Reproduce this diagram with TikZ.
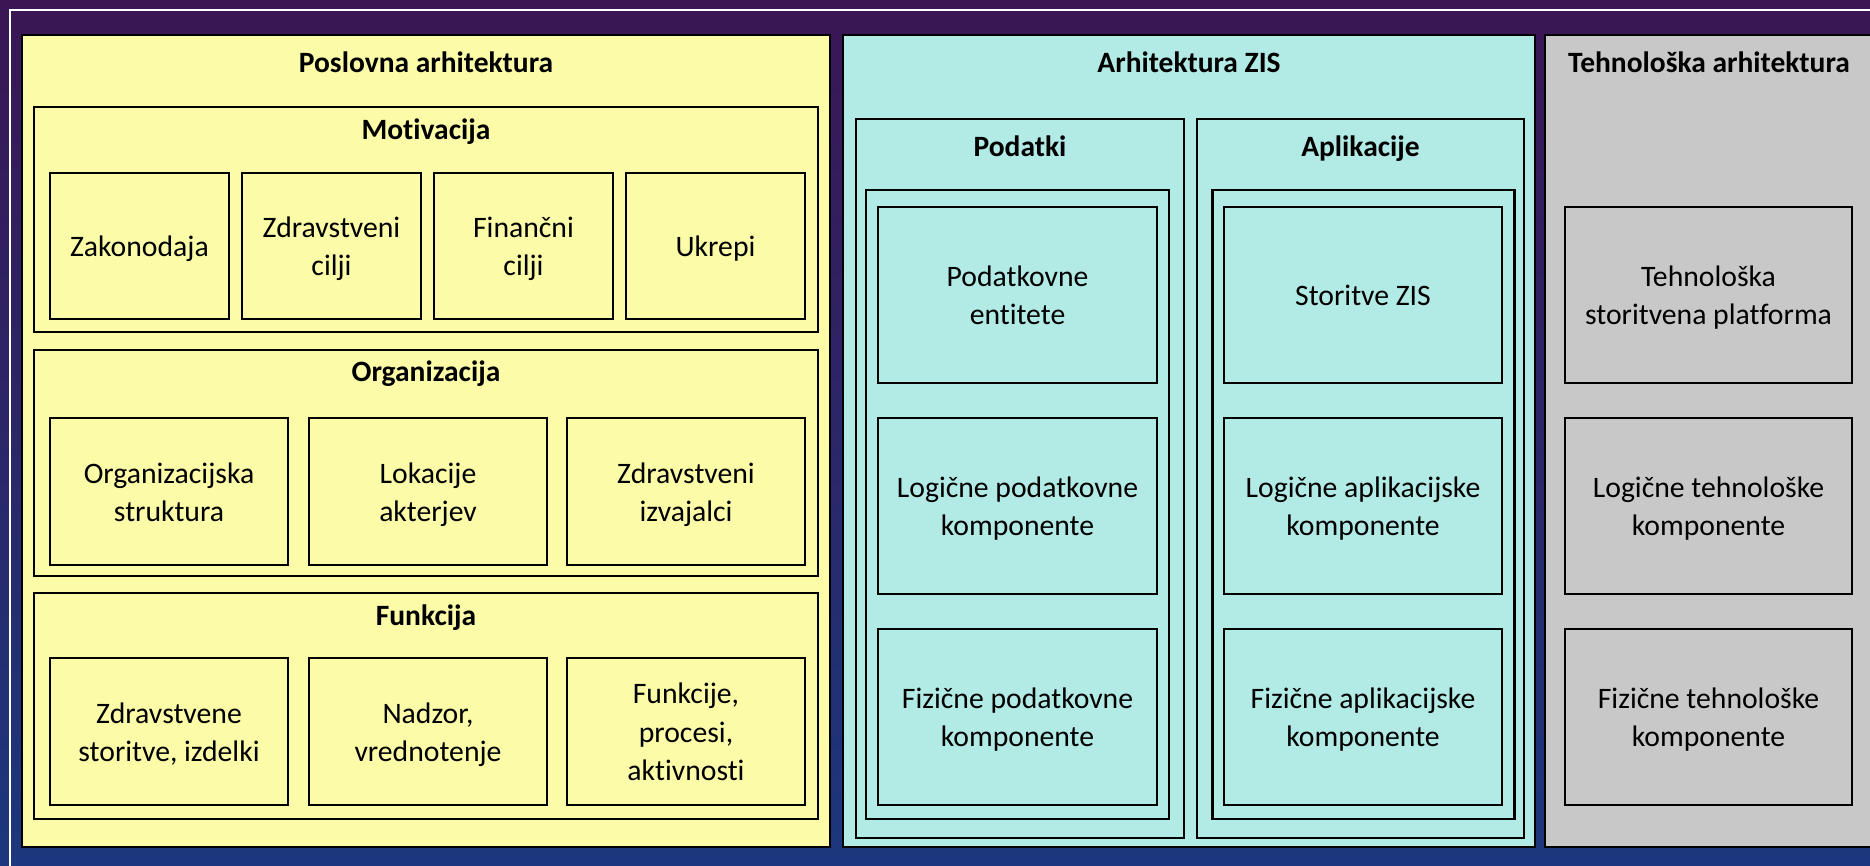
\documentclass[tikz,border=0pt]{standalone}
\usepackage{fontspec}
\setmainfont{Carlito}[Ligatures=NoCommon]
\definecolor{yel}{RGB}{251,251,168}
\definecolor{cya}{RGB}{178,234,229}
\definecolor{gry}{RGB}{200,200,200}
\definecolor{bgtop}{RGB}{58,22,84}
\definecolor{bgbot}{RGB}{28,55,125}
\newsavebox\tbx
% text block whose first cap top and last baseline are centred
\newcommand\tx[1]{\sbox\tbx{\begin{tabular}[b]{@{}c@{}}#1\end{tabular}}%
  \raisebox{0pt}[\dimexpr\ht\tbx-5.5pt\relax][0pt]{\usebox\tbx}}
\tikzset{
  base/.style={draw=black, line width=2.2pt, inner sep=0pt,
    font=\fontsize{29.7}{38.3}\selectfont},
  outer/.style={base, line width=2.6pt},
  ybox/.style={base, fill=yel},
  cbox/.style={base, fill=cya},
  gbox/.style={base, fill=gry},
  ttl/.style={inner sep=0pt, anchor=base, font=\fontsize{29.5}{36}\selectfont\bfseries}
}
\begin{document}
\begin{tikzpicture}[x=1pt,y=-1pt]
\useasboundingbox (0,0) rectangle (1870,865);
\begin{scope}
\clip (0,0) rectangle (1870,865);
\shade[top color=bgtop, bottom color=bgbot] (0,0) rectangle (1870,865);
\draw[white, line width=2pt] (10,10) rectangle (1900,900);
% Poslovna arhitektura
\node[outer, fill=yel, minimum width=808pt, minimum height=812pt] (pos) at (426,441) {};
\node[ttl] (posT) at (426,72.7) {Poslovna arhitektura};
\node[ybox, minimum width=784pt, minimum height=225pt] (mot) at (426,219.2) {};
\node[ttl] (motT) at (426,139) {Motivacija};
\node[ybox, minimum width=179pt, minimum height=146pt] (zak) at (139.5,246) {\tx{Zakonodaja}};
\node[ybox, minimum width=179pt, minimum height=146pt] (zci) at (331.5,246) {\tx{Zdravstveni\\cilji}};
\node[ybox, minimum width=179pt, minimum height=146pt] (fci) at (523.5,246) {\tx{Finančni\\cilji}};
\node[ybox, minimum width=179pt, minimum height=146pt] (ukr) at (715.5,246) {\tx{Ukrepi}};
\node[ybox, minimum width=784pt, minimum height=226pt] (org) at (426,463) {};
\node[ttl] (orgT) at (426,381.7) {Organizacija};
\node[ybox, minimum width=238pt, minimum height=147pt] (ost) at (169,491.5) {\tx{Organizacijska\\struktura}};
\node[ybox, minimum width=238pt, minimum height=147pt] (lak) at (428,491.5) {\tx{Lokacije\\akterjev}};
\node[ybox, minimum width=238pt, minimum height=147pt] (ziz) at (686,491.5) {\tx{Zdravstveni\\izvajalci}};
\node[ybox, minimum width=784pt, minimum height=226pt] (fun) at (426,706) {};
\node[ttl] (funT) at (426,625) {Funkcija};
\node[ybox, minimum width=238pt, minimum height=147pt] (zst) at (169,731.5) {\tx{Zdravstvene\\storitve, izdelki}};
\node[ybox, minimum width=238pt, minimum height=147pt] (nad) at (428,731.5) {\tx{Nadzor,\\vrednotenje}};
\node[ybox, minimum width=238pt, minimum height=147pt] (fpa) at (686,731.5) {\tx{Funkcije,\\procesi,\\aktivnosti}};
% Arhitektura ZIS
\node[outer, fill=cya, minimum width=692pt, minimum height=812pt] (zis) at (1189,441) {};
\node[ttl] (zisT) at (1189,72.7) {Arhitektura ZIS};
\node[cbox, minimum width=328pt, minimum height=719pt] (pod) at (1020,478.5) {};
\node[ttl] (podT) at (1020,156.7) {Podatki};
\node[cbox, minimum width=303pt, minimum height=629pt] (podI) at (1017.5,504.5) {};
\node[cbox, minimum width=279pt, minimum height=176pt] (pen) at (1017.5,295) {\tx{Podatkovne\\entitete}};
\node[cbox, minimum width=279pt, minimum height=176pt] (lpk) at (1017.5,506) {\tx{Logične podatkovne\\komponente}};
\node[cbox, minimum width=279pt, minimum height=176pt] (fpk) at (1017.5,717) {\tx{Fizične podatkovne\\komponente}};
\node[cbox, minimum width=327pt, minimum height=719pt] (apl) at (1360.5,478.5) {};
\node[ttl] (aplT) at (1360.5,156.7) {Aplikacije};
\node[cbox, minimum width=302pt, minimum height=629pt] (aplI) at (1363.5,504.5) {};
\node[cbox, minimum width=278pt, minimum height=176pt] (szis) at (1363,295) {\tx{Storitve ZIS}};
\node[cbox, minimum width=278pt, minimum height=176pt] (lak2) at (1363,506) {\tx{Logične aplikacijske\\komponente}};
\node[cbox, minimum width=278pt, minimum height=176pt] (fak) at (1363,717) {\tx{Fizične aplikacijske\\komponente}};
% Tehnoloska arhitektura
\node[outer, fill=gry, minimum width=340pt, minimum height=812pt] (teh) at (1715,441) {};
\node[ttl] (tehT) at (1709,72.7) {Tehnološka arhitektura};
\node[gbox, minimum width=287pt, minimum height=176pt] (tsp) at (1708.5,295) {\tx{Tehnološka\\storitvena platforma}};
\node[gbox, minimum width=287pt, minimum height=176pt] (ltk) at (1708.5,506) {\tx{Logične tehnološke\\komponente}};
\node[gbox, minimum width=287pt, minimum height=176pt] (ftk) at (1708.5,717) {\tx{Fizične tehnološke\\komponente}};
\end{scope}
\end{tikzpicture}
\end{document}
